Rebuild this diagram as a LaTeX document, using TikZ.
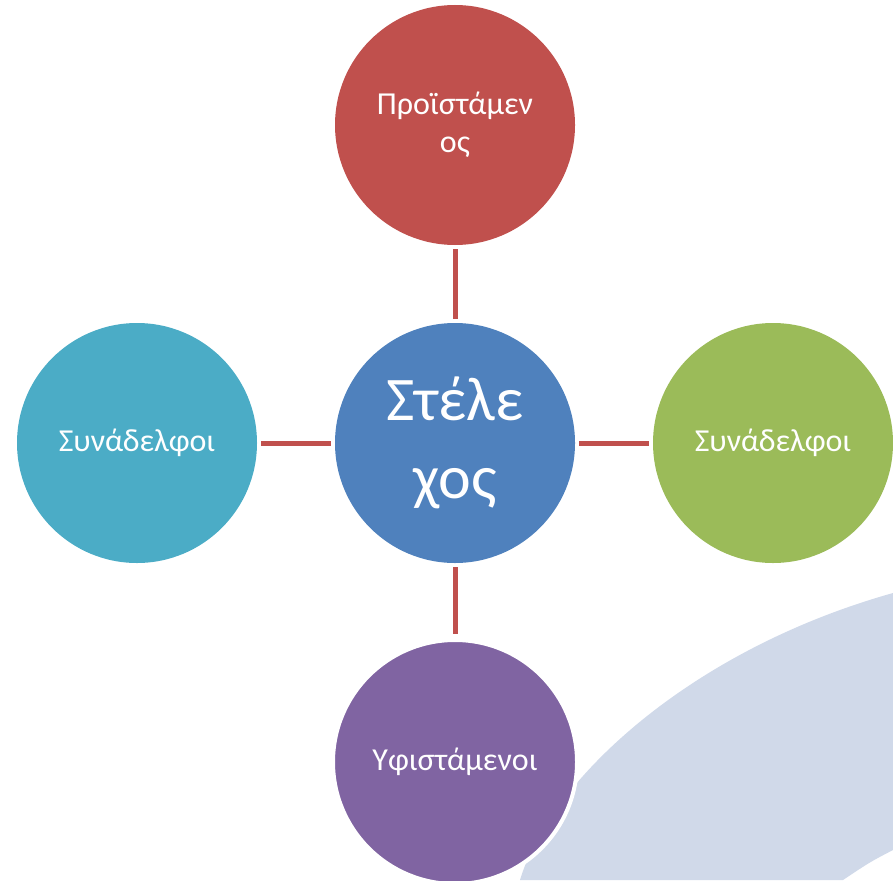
\documentclass[tikz,border=0pt]{standalone}
\usepackage{fontspec}
\setmainfont{Carlito}
\definecolor{cred}{HTML}{C0504D}
\definecolor{cblue}{HTML}{4F81BD}
\definecolor{ccyan}{HTML}{4BACC6}
\definecolor{cgreen}{HTML}{9BBB59}
\definecolor{cpurple}{HTML}{8064A2}
\definecolor{cback}{HTML}{D0D9E9}
\begin{document}
\begin{tikzpicture}[x=1pt,y=-1pt,
  bubble/.style={circle,minimum size=240pt,inner sep=0pt,text=white,align=center,
    font=\fontsize{32}{38}\selectfont},
  link/.style={draw=cred,line width=5pt,shorten <=4pt,shorten >=4pt}]
\useasboundingbox (0,0) rectangle (893,880);
\begin{scope}
\clip (0,0) rectangle (893,880);
\fill[cback] (520,880) .. controls (550,780) and (690,650) .. (893,593)
  -- (893,850) .. controls (870,862) .. (843,880) -- cycle;
\node[bubble,fill=cred] (top) at (455,125) {Προϊστάμεν\\ος};
\node[bubble,fill=cblue,font=\fontsize{62}{78}\selectfont] (mid) at (455,443) {Στέλε\\χος};
\node[bubble,fill=ccyan] (left) at (137,443) {Συνάδελφοι};
\node[bubble,fill=cgreen] (right) at (773,443) {Συνάδελφοι};
\node[bubble,fill=cpurple,draw=white,line width=4pt,minimum size=244pt] (bot) at (455,762) {Υφιστάμενοι};
\draw[link] (top) -- (mid);
\draw[link] (left) -- (mid);
\draw[link] (mid) -- (right);
\draw[link] (mid) -- (bot);
\end{scope}
\end{tikzpicture}
\end{document}
